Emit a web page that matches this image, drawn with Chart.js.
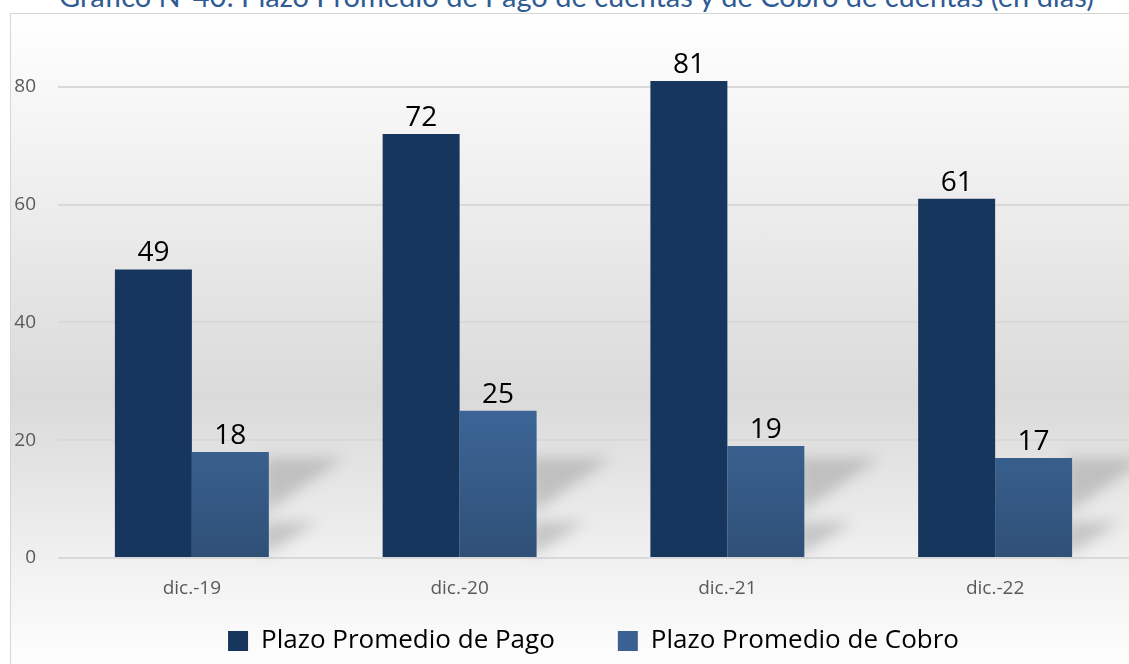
<!DOCTYPE html>
<html>
<head>
<meta charset="utf-8">
<script src="https://cdn.jsdelivr.net/npm/chart.js@4/dist/chart.umd.min.js"></script>
<style>
  html, body { margin: 0; padding: 0; width: 1129px; height: 664px; overflow: hidden; background: #fff; }
  #titulo {
    position: absolute; left: 0; top: -19px; width: 1153px; text-align: center;
    font-family: Lato, sans-serif; font-size: 29px; line-height: 29px; color: #2f5b95; white-space: nowrap;
  }
  #marco {
    position: absolute; left: 10px; top: 13px; width: 1130px; height: 660px;
    border: 1px solid #d6d6d6;
    background: linear-gradient(to bottom, #ffffff 0%, #e9e9e9 35%, #dadada 58%, #eeeeee 80%, #ffffff 100%);
  }
  #wrap { position: absolute; left: 0; top: 0; width: 1129px; height: 664px; }
</style>
</head>
<body>
<div id="marco"></div>
<div id="titulo">Gráfico N°40: Plazo Promedio de Pago de cuentas y de Cobro de cuentas (en días)</div>
<div id="wrap"><canvas id="grafico" width="1129" height="664"></canvas></div>
<script>
const periodos = ['dic.-19', 'dic.-20', 'dic.-21', 'dic.-22']
const plazoPago = [49, 72, 81, 61]
const plazoCobro = [18, 25, 19, 17]
const ticksY = [0, 20, 40, 60, 80]

const colorPago = '#17365d'

// degradado vertical para las barras de cobro
function degradadoCobro(context) {
  const chart = context.chart
  const area = chart.chartArea
  if (!area) return '#3a6192'
  const g = chart.ctx.createLinearGradient(0, area.top, 0, area.bottom)
  g.addColorStop(0, '#4670a4')
  g.addColorStop(0.75, '#3b6393')
  g.addColorStop(1, '#2f5077')
  return g
}

// sombras difusas a la derecha de las barras de cobro
const sombras = {
  id: 'sombras',
  beforeDatasetsDraw(chart) {
    const ctx = chart.ctx
    const meta = chart.getDatasetMeta(1)
    const base = chart.scales.y.getPixelForValue(0)
    ctx.save()
    ctx.filter = 'blur(7px)'
    ctx.fillStyle = 'rgba(140,140,140,0.42)'
    meta.data.forEach((bar) => {
      const right = bar.x + bar.width / 2
      ctx.beginPath()
      ctx.moveTo(right - 6, base - 100)
      ctx.lineTo(right + 75, base - 100)
      ctx.lineTo(right - 6, base - 44)
      ctx.closePath()
      ctx.fill()
      ctx.beginPath()
      ctx.moveTo(right - 6, base - 36)
      ctx.lineTo(right + 48, base - 36)
      ctx.lineTo(right - 6, base - 2)
      ctx.closePath()
      ctx.fill()
    })
    ctx.restore()
  }
}

// valores encima de cada barra
const etiquetas = {
  id: 'etiquetas',
  afterDatasetsDraw(chart) {
    const ctx = chart.ctx
    ctx.save()
    ctx.font = '28px "Open Sans"'
    ctx.fillStyle = '#000'
    ctx.textAlign = 'center'
    ctx.textBaseline = 'alphabetic'
    chart.data.datasets.forEach((ds, i) => {
      chart.getDatasetMeta(i).data.forEach((bar, j) => {
        ctx.fillText(ds.data[j], bar.x, bar.y - 8)
      })
    })
    ctx.restore()
  }
}

const chart = new Chart(
  document.getElementById('grafico').getContext('2d'),
  {
    type: 'bar',
    data: {
      labels: periodos,
      datasets: [
        {
          label: 'Plazo Promedio de Pago',
          data: plazoPago,
          backgroundColor: colorPago,
          categoryPercentage: 0.575,
          barPercentage: 1,
        },
        {
          label: 'Plazo Promedio de Cobro',
          data: plazoCobro,
          backgroundColor: degradadoCobro,
          categoryPercentage: 0.575,
          barPercentage: 1,
        },
      ],
    },
    options: {
      responsive: false,
      animation: false,
      layout: { padding: { top: 28, left: 0, right: 0, bottom: 0 } },
      plugins: {
        legend: {
          position: 'bottom',
          fullSize: false,
          labels: {
            font: { family: 'Open Sans', size: 26 },
            color: '#000',
            boxWidth: 20,
            boxHeight: 20,
            padding: 11,
            generateLabels(chart) {
              const n = chart.data.datasets.length
              return chart.data.datasets.map((ds, i) => ({
                // espacio extra entre las dos entradas
                text: i < n - 1 ? ds.label + '\u2003\u2003' : ds.label,
                fillStyle: i === 0 ? colorPago : '#3a6192',
                strokeStyle: 'transparent',
                lineWidth: 0,
                datasetIndex: i,
              }))
            },
          },
        },
        tooltip: { enabled: false },
      },
      scales: {
        x: {
          grid: { display: false },
          border: { display: false },
          ticks: { color: '#595959', font: { family: 'Open Sans', size: 19 }, padding: 11 },
          afterFit(scale) { scale.height = 59 },
        },
        y: {
          min: 0,
          max: 90,
          afterBuildTicks(scale) {
            scale.ticks = ticksY.map((v) => ({ value: v }))
          },
          grid: { color: '#d9d9d9', lineWidth: 2, drawTicks: false },
          border: { display: false },
          ticks: { color: '#595959', font: { family: 'Open Sans', size: 19 }, padding: 22 },
          afterFit(scale) {
            scale.width = 58
            // el margen del área lo fija layout.padding
            scale.paddingTop = 0
            scale.paddingBottom = 0
          },
        },
      },
    },
    plugins: [sombras, etiquetas],
  },
)
</script>
</body>
</html>
